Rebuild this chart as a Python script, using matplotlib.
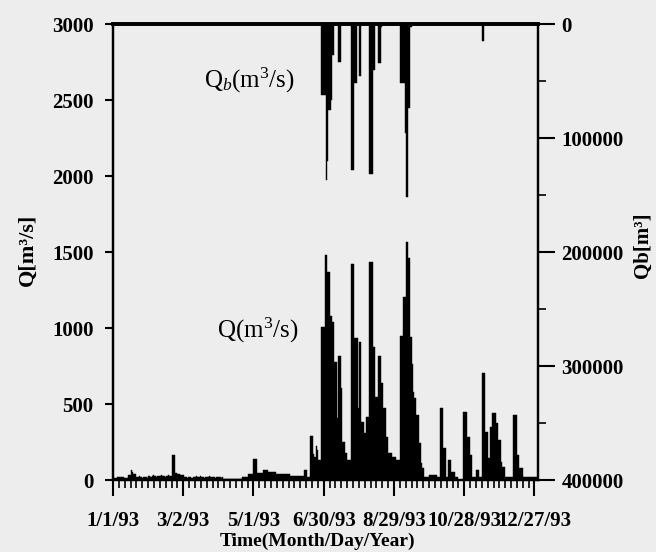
import matplotlib
matplotlib.use("Agg")
import matplotlib.pyplot as plt
import numpy as np
from matplotlib.ticker import MultipleLocator

plt.rcParams['font.family'] = ['Liberation Serif', 'DejaVu Serif']
plt.rcParams['mathtext.fontset'] = 'custom'
plt.rcParams['mathtext.rm'] = 'Liberation Serif'
plt.rcParams['mathtext.it'] = 'Liberation Serif:italic'
plt.rcParams['mathtext.bf'] = 'Liberation Serif:bold'

# daily discharge Q [m3/s], day 0 = 1/1/93
q_daily = [
    10, 10, 10, 20, 20, 20, 20, 20, 20, 15,
    15, 15, 15, 33, 33, 66, 55, 40, 40, 40,
    20, 20, 25, 20, 20, 15, 20, 20, 20, 10,
    25, 25, 20, 25, 30, 25, 25, 20, 25, 25,
    25, 30, 25, 25, 20, 25, 25, 30, 25, 25,
    164, 164, 164, 45, 45, 40, 40, 35, 35, 30,
    30, 20, 20, 15, 20, 20, 20, 15, 20, 20,
    20, 25, 20, 20, 25, 20, 20, 20, 15, 20,
    20, 20, 25, 20, 20, 20, 20, 15, 20, 20,
    20, 20, 15, 20, 5, 5, 5, 5, 5, 5,
    5, 5, 5, 5, 5, 5, 5, 5, 5, 5,
    18, 18, 18, 18, 18, 40, 40, 40, 40, 40,
    138, 138, 138, 44, 44, 44, 44, 44, 66, 66,
    66, 66, 50, 50, 50, 50, 50, 50, 50, 40,
    40, 40, 40, 40, 40, 40, 40, 40, 40, 40,
    40, 28, 28, 28, 28, 28, 28, 28, 28, 28,
    28, 28, 28, 66, 66, 66, 20, 20, 290, 290,
    290, 170, 150, 224, 200, 130, 130, 130, 1006, 1006,
    1006, 1480, 1480, 1370, 1370, 1080, 1080, 1040, 1040, 776,
    776, 408, 816, 816, 816, 605, 250, 250, 176, 176,
    130, 130, 130, 1420, 1420, 1420, 934, 934, 934, 474,
    908, 908, 382, 382, 309, 309, 414, 414, 414, 1434,
    1434, 1434, 875, 875, 546, 546, 816, 816, 816, 638,
    638, 474, 474, 283, 283, 176, 176, 176, 151, 151,
    151, 151, 130, 130, 130, 947, 947, 947, 1204, 1204,
    1566, 1566, 1460, 1460, 940, 760, 580, 540, 540, 428,
    428, 243, 243, 112, 79, 79, 20, 20, 20, 20,
    33, 33, 33, 33, 33, 33, 33, 20, 20, 474,
    474, 474, 210, 210, 20, 20, 132, 132, 132, 53,
    53, 53, 20, 20, 20, 0, 0, 0, 0, 447,
    447, 447, 283, 283, 283, 164, 164, 20, 20, 20,
    66, 66, 66, 20, 20, 704, 704, 704, 316, 316,
    145, 145, 349, 349, 440, 440, 440, 375, 375, 263,
    263, 120, 86, 86, 86, 20, 20, 20, 20, 20,
    20, 20, 428, 428, 428, 164, 164, 79, 79, 79,
    20, 20, 20, 20, 20, 20, 20, 20, 20, 20,
    20, 20, 20,
]

# bed load Qb [m3], only the days where it is non zero
qb_days = [178, 179, 180, 181, 182, 183, 184, 185, 186, 187, 188,
           192, 193, 194, 203, 204, 205, 206, 207, 210, 211,
           219, 220, 221, 222, 223, 226, 227, 228, 229,
           245, 246, 247, 248, 249, 250, 251, 252, 253, 254, 315, 316]
qb_values = [62000, 62000, 62000, 62000, 137000, 120000, 75000, 75000, 67000, 27000, 27000,
             33000, 33000, 33000, 128000, 128000, 128000, 52000, 52000, 46000, 46000,
             132000, 132000, 132000, 40000, 40000, 34000, 34000, 34000, 3000,
             52000, 52000, 52000, 52000, 96000, 152000, 152000, 74000, 74000, 3000, 15000, 15000]

date_ticks = [0, 60, 120, 180, 240, 300, 360]
date_labels = ['1/1/93', '3/2/93', '5/1/93', '6/30/93', '8/29/93', '10/28/93', '12/27/93']
q_ticks = [0, 500, 1000, 1500, 2000, 2500, 3000]
qb_ticks = [0, 100000, 200000, 300000, 400000]

W, H = 656, 552
bg = '#ededed'
fig = plt.figure(figsize=(W / 100, H / 100), dpi=100, facecolor=bg)
ax = fig.add_axes([113 / W, 1 - 480 / H, (538 - 113) / W, (480 - 24) / H])
ax.set_facecolor(bg)

days = np.arange(len(q_daily))
ax.bar(days, q_daily, width=1.0, align='edge', color='black', edgecolor='black', linewidth=0.3)
ax.set_xlim(0, 363)
ax.set_ylim(0, 3000)

ax2 = ax.twinx()
ax2.bar(qb_days, qb_values, width=1.0, align='edge', color='black', edgecolor='black', linewidth=0.3)
ax2.set_ylim(400000, 0)

bold = dict(fontweight='bold', fontsize=15)
ax.set_xticks(date_ticks)
ax.set_xticklabels(date_labels, **bold)
ax.xaxis.set_minor_locator(MultipleLocator(5))
ax.set_yticks(q_ticks)
ax.set_yticklabels([str(v) for v in q_ticks], **bold)
ax2.set_yticks(qb_ticks)
ax2.set_yticklabels([str(v) for v in qb_ticks], **bold)
ax2.yaxis.set_minor_locator(MultipleLocator(50000))

ax.tick_params(axis='x', which='major', direction='out', length=11.5, width=1.5, pad=11)
ax.tick_params(axis='x', which='minor', direction='out', length=5.5, width=1.2)
ax.tick_params(axis='y', which='major', direction='out', length=6, width=1.5, pad=8)
ax2.tick_params(axis='y', which='major', direction='out', length=12, width=1.5, pad=5)
ax2.tick_params(axis='y', which='minor', direction='out', length=6, width=1.2)

for a in (ax, ax2):
    for side in ('left', 'right', 'bottom'):
        a.spines[side].set_linewidth(1.6)
    a.spines['top'].set_linewidth(2.6)

fig.text(28 / W, 1 - 250 / H, 'Q[m³/s]', rotation=90, ha='center', va='center',
         fontweight='bold', fontsize=16)
fig.text(643 / W, 1 - 245 / H, 'Qb[m³]', rotation=90, ha='center', va='center',
         fontweight='bold', fontsize=15)
fig.text(317 / W, 1 - 541 / H, 'Time(Month/Day/Year)', ha='center', va='center',
         fontweight='bold', fontsize=14)

fig.text(249 / W, 1 - 80 / H, r'Q$_\mathit{b}$(m$^\mathrm{3}$/s)', ha='center', va='center', fontsize=18)
fig.text(258 / W, 1 - 330 / H, r'Q(m$^\mathrm{3}$/s)', ha='center', va='center', fontsize=18)

fig.savefig('out.png', dpi=100, facecolor=bg)
